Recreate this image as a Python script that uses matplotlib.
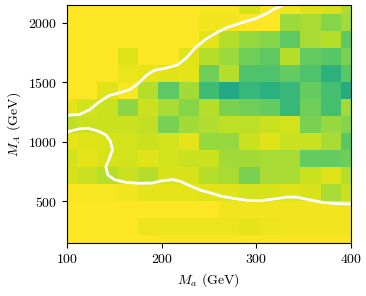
import numpy as np
import matplotlib
matplotlib.use("Agg")
import matplotlib.pyplot as plt

plt.rcParams['font.family'] = 'serif'
plt.rcParams['font.serif'] = ['cmr10']
plt.rcParams['mathtext.fontset'] = 'cm'
plt.rcParams['axes.formatter.use_mathtext'] = True

# grid centres (GeV)
m_a = np.linspace(100, 400, 15)
m_A = np.linspace(150, 2150, 15)

# cell values (0..1 on viridis), rows from M_A = 150 (bottom) to 2150 (top)
row_00 = [1.00, 1.00, 1.00, 1.00, 1.00, 0.99, 0.99, 0.99, 0.99, 0.99, 0.99, 0.99, 0.99, 0.99, 0.99]
row_01 = [1.00, 1.00, 1.00, 1.00, 0.97, 0.97, 0.97, 0.97, 0.97, 0.96, 0.97, 0.98, 0.98, 0.98, 0.98]
row_02 = [1.00, 1.00, 1.00, 1.00, 1.00, 1.00, 1.00, 1.00, 0.98, 0.98, 0.98, 0.98, 0.98, 0.98, 0.98]
row_03 = [0.99, 0.99, 0.99, 0.98, 0.96, 0.96, 0.96, 0.95, 0.95, 0.93, 0.94, 0.95, 0.94, 0.87, 0.92]
row_04 = [0.94, 0.92, 0.89, 0.92, 0.89, 0.94, 0.94, 0.89, 0.87, 0.80, 0.87, 0.87, 0.92, 0.95, 0.89]
row_05 = [0.93, 0.96, 0.94, 0.93, 0.95, 0.93, 0.92, 0.92, 0.86, 0.86, 0.87, 0.87, 0.76, 0.76, 0.78]
row_06 = [0.96, 0.95, 0.94, 0.93, 0.92, 0.93, 0.96, 0.84, 0.84, 0.92, 0.95, 0.92, 0.92, 0.87, 0.74]
row_07 = [0.90, 0.92, 0.92, 0.92, 0.91, 0.80, 0.86, 0.88, 0.90, 0.90, 0.92, 0.93, 0.80, 0.84, 0.82]
row_08 = [0.96, 0.93, 0.92, 0.83, 0.92, 0.87, 0.82, 0.89, 0.80, 0.78, 0.76, 0.67, 0.78, 0.70, 0.86]
row_09 = [1.00, 1.00, 0.95, 0.99, 0.89, 0.75, 0.86, 0.69, 0.60, 0.67, 0.64, 0.67, 0.76, 0.70, 0.61]
row_10 = [1.00, 1.00, 1.00, 0.97, 0.96, 0.95, 0.96, 0.78, 0.89, 0.72, 0.72, 0.76, 0.72, 0.64, 0.74]
row_11 = [1.00, 1.00, 1.00, 0.95, 1.00, 1.00, 0.95, 0.89, 0.85, 0.78, 0.75, 0.89, 0.76, 0.74, 0.80]
row_12 = [1.00, 1.00, 1.00, 1.00, 1.00, 1.00, 1.00, 0.96, 0.89, 0.84, 0.82, 0.75, 0.87, 0.89, 0.75]
row_13 = [1.00, 1.00, 1.00, 1.00, 1.00, 1.00, 1.00, 0.98, 0.98, 1.00, 1.00, 0.85, 0.87, 0.82, 0.86]
row_14 = [1.00, 1.00, 1.00, 1.00, 1.00, 1.00, 1.00, 0.99, 0.99, 0.94, 0.99, 0.98, 0.95, 0.94, 0.88]

# white contour lines
upper_x = [100, 102, 113, 124, 134, 145, 155, 166, 175, 184, 192, 205, 217, 226, 236,
           247, 259, 270, 284, 298, 310, 319, 327, 330]
upper_y = [1222, 1224, 1230, 1271, 1336, 1391, 1411, 1439, 1489, 1559, 1601, 1621, 1648, 1704, 1796,
           1866, 1922, 1964, 2000, 2033, 2075, 2117, 2145, 2165]
lower_x = [100, 102, 113, 122, 132, 141, 146, 148, 145, 141, 143, 150, 162, 176, 190, 201,
           212, 220, 231, 242, 252, 263, 277, 291, 305, 319, 333, 344, 355, 369, 383, 397, 400]
lower_y = [1080, 1087, 1110, 1115, 1093, 1059, 1003, 934, 864, 794, 724, 683, 660, 652, 654, 674,
           683, 668, 627, 591, 571, 543, 524, 509, 507, 520, 537, 534, 515, 493, 482, 479, 479]

Z = np.array([row_00, row_01, row_02, row_03, row_04, row_05, row_06, row_07,
              row_08, row_09, row_10, row_11, row_12, row_13, row_14])

fig = plt.figure(figsize=(3.66, 2.96), dpi=100)
ax = fig.add_axes([0.183, 0.179, 0.776, 0.804])
ax.pcolormesh(m_a, m_A, Z, cmap='viridis', vmin=0, vmax=1, shading='nearest')
ax.plot(upper_x, upper_y, color='white', lw=2)
ax.plot(lower_x, lower_y, color='white', lw=2)

ax.set_xlim(100, 400)
ax.set_ylim(150, 2150)
ax.set_xticks([100, 200, 300, 400])
ax.set_yticks([500, 1000, 1500, 2000])
ax.tick_params(labelsize=10)
ax.set_xlabel(r'$M_a$ (GeV)', fontsize=10)
ax.set_ylabel(r'$M_A$ (GeV)', fontsize=10)

fig.savefig('out.png', dpi=100)
